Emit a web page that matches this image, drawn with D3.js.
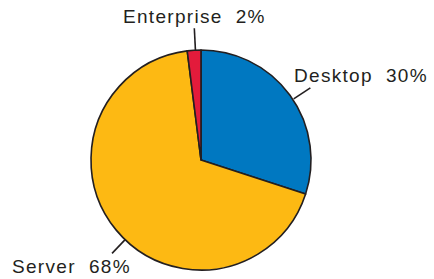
<!DOCTYPE html>
<html>
<head>
<meta charset="utf-8">
<script src="https://cdn.jsdelivr.net/npm/d3@7"></script>
<style>
html,body{margin:0;padding:0;background:#fff;}
svg{display:block;}
text{font-family:"Liberation Sans",Arial,sans-serif;font-size:19px;fill:#231f20;letter-spacing:1.3px;}
</style>
</head>
<body>
<svg id="chart" width="434" height="279"></svg>
<script>
// Data
const categories = ["Desktop", "Server", "Enterprise"];
const values = [30, 68, 2];
const colors = ["#0078c1", "#fdb913", "#e31b3b"];

// Layout (label placement, not data)
const width = 434, height = 279;
const cx = 201, cy = 160, radius = 110;
const labelLayout = {
  "Desktop":    {angle: 56.6,  r0: 111, r1: 131, x: 294, y: 82,  anchor: "start"},
  "Server":     {angle: 223.6, r0: 110, r1: 129, x: 12,  y: 273, anchor: "start"},
  "Enterprise": {angle: 357.1, r0: 110, r1: 132, x: 123, y: 23,  anchor: "start"}
};

const data = categories.map((c, i) => ({name: c, value: values[i], color: colors[i]}));

const svg = d3.select("#chart");
const g = svg.append("g").attr("transform", `translate(${cx},${cy})`);

const pie = d3.pie().value(d => d.value).sort(null);
const arc = d3.arc().innerRadius(0).outerRadius(radius);

const arcs = pie(data);

g.selectAll("path.slice")
  .data(arcs)
  .enter().append("path")
  .attr("class", "slice")
  .attr("d", arc)
  .attr("fill", d => d.data.color)
  .attr("stroke", "#231f20")
  .attr("stroke-width", 1.6)
  .attr("stroke-linejoin", "round");

// Leader lines
g.selectAll("line.leader")
  .data(arcs)
  .enter().append("line")
  .attr("class", "leader")
  .attr("x1", d => { const L = labelLayout[d.data.name]; return L.r0 * Math.sin(L.angle * Math.PI / 180); })
  .attr("y1", d => { const L = labelLayout[d.data.name]; return -L.r0 * Math.cos(L.angle * Math.PI / 180); })
  .attr("x2", d => { const L = labelLayout[d.data.name]; return L.r1 * Math.sin(L.angle * Math.PI / 180); })
  .attr("y2", d => { const L = labelLayout[d.data.name]; return -L.r1 * Math.cos(L.angle * Math.PI / 180); })
  .attr("stroke", "#231f20")
  .attr("stroke-width", 1.6);

// Labels
svg.selectAll("text.label")
  .data(arcs)
  .enter().append("text")
  .attr("class", "label")
  .attr("x", d => labelLayout[d.data.name].x)
  .attr("y", d => labelLayout[d.data.name].y)
  .attr("text-anchor", d => labelLayout[d.data.name].anchor)
  .text(d => d.data.name + "\u00a0\u00a0" + d.data.value + "%");
</script>
</body>
</html>
